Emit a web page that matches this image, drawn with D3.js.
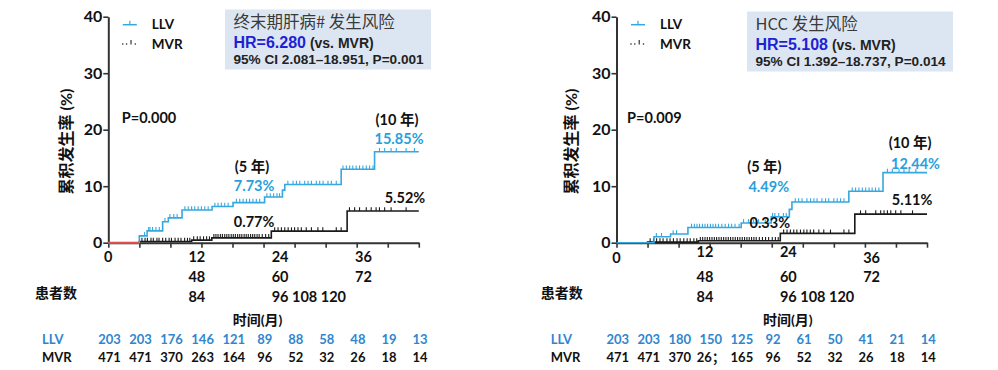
<!DOCTYPE html>
<html>
<head>
<meta charset="utf-8">
<script src="https://cdn.jsdelivr.net/npm/d3@7"></script>
<style>
  body { margin: 0; background: #fff; }
</style>
</head>
<body>
<svg id="chart"></svg>
<script>
// ---- data ----
const tickMonths = [0, 12, 24, 36, 48, 60, 72, 84, 96, 108, 120];
const xTickLabels = ["0", "12", "24", "36", "48", "60", "72", "84", "96", "108", "120"];
const yTicks = [0, 10, 20, 30, 40];

// end-stage liver disease panel
const eslLLVTimes = [0, 12, 15, 21, 23.2, 28.5, 40.1, 48.2, 60.4, 67.3, 68.2, 90, 102.9, 120];
const eslLLVRates = [0, 1.2, 2.1, 3.7, 4.4, 5.8, 6.4, 7.1, 8.1, 9.3, 10.3, 13.0, 16.1, 16.1];
const eslLLVCensor = [14, 15.6, 16.1, 17.1, 18.4, 19.7, 21.9, 23.8, 25.3, 26.6, 29.6, 30.9, 32.2, 33.4, 34.7, 36, 37.3, 38.6,
  41.2, 42.4, 43.7, 45, 46.3, 49.5, 50.8, 52.1, 53.4, 54.6, 55.9, 57.2, 58.5, 61.3, 62.6, 63.9, 65.2, 66.2,
  69.4, 71.4, 72.7, 74, 75.9, 77.2, 78.5, 80.4, 81.7, 83, 84.9, 86.2, 88.1, 90.7, 92, 93.3, 94.5, 95.8, 97.1,
  98.4, 99.7, 101, 102.3, 104.8, 106.8, 109.3, 111.3, 115.1, 118.3];
const eslMVRTimes = [0, 12, 32.2, 40, 63, 92.3, 120];
const eslMVRRates = [0, 0.2, 0.45, 0.85, 2.05, 5.6, 5.6];
const eslMVRCensor = [13, 14.2, 15.1, 16.5, 17.4, 18.8, 19.6, 21, 22.2, 23.5, 24.4, 25.8, 27, 28.1, 29.5, 30.6, 31.5,
  33, 34.4, 35.5, 36.8, 38, 39.1, 40.8, 41.6, 42.4, 43.3, 44.1, 45, 45.8, 46.6, 47.5, 48.3, 49.1, 50, 50.8,
  51.6, 52.5, 53.3, 54.1, 55, 55.8, 56.6, 57.5, 58.3, 59.5, 60.8, 62, 64.3, 65.6, 66.9, 68.2, 69.5, 70.8, 72,
  73.3, 74.6, 76.5, 78.5, 81, 82.9, 88.1, 90, 93.2, 95.2, 97.1, 99.7, 101.6, 103.5, 104.8, 106.8, 109.3, 115.1];
const eslRiskLLV = ["203", "203", "176", "146", "121", "89", "88", "58", "48", "19", "13"];
const eslRiskMVR = ["471", "471", "370", "263", "164", "96", "52", "32", "26", "18", "14"];

// HCC panel
const hccLLVTimes = [0, 14.5, 20.9, 27.6, 48.2, 59.8, 66.8, 67.8, 89.8, 103, 120];
const hccLLVRates = [0, 1.05, 1.55, 2.7, 3.5, 4.6, 5.9, 7.2, 9.1, 12.4, 12.4];
const hccLLVCensor = [15.4, 17.4, 21.9, 23.2, 29, 30.1, 31.1, 32.1, 33.2, 34.2, 35.2, 36.3, 37.3, 38.3, 39.4, 40.7, 42,
  43.3, 44.5, 45.8, 47.4, 49.1, 51, 53, 54.9, 57.5, 60.3, 61.2, 62.7, 64.5, 65.6, 69.1, 70.4, 71.7, 73.6, 75,
  76.3, 77.5, 79.4, 80.8, 82, 84, 85.3, 86.6, 87.9, 91.1, 92.4, 93.7, 95, 96.3, 97.6, 98.8, 100.1, 101.4,
  104.7, 106.6, 109.2, 111.1, 113.1, 115.7];
const hccMVRTimes = [0, 12, 31.6, 63.3, 92.1, 120];
const hccMVRRates = [0, 0.1, 0.35, 1.65, 5.05, 5.05];
const hccMVRCensor = [13, 14.3, 15.5, 16.8, 18, 19.5, 20.7, 22, 23.4, 24.6, 26, 27.3, 28.5, 29.9, 31, 32.4, 33.3, 34.2,
  35.1, 36, 36.9, 37.8, 38.7, 39.6, 40.5, 41.4, 42.3, 43.2, 44.1, 45, 45.9, 46.8, 47.7, 48.6, 49.5, 50.4,
  51.3, 52.2, 53.1, 54, 55.2, 56.4, 57.6, 58.8, 60.2, 61.4, 62.5, 64.6, 65.9, 67.2, 68.5, 69.7, 71.1, 72.4,
  73.6, 74.9, 76.2, 78.2, 80.1, 82.7, 87.9, 89.8, 94.3, 96.3, 100.2, 102.1, 103.4, 104.7, 106, 107.9, 109.9, 114.4];
const hccRiskLLV = ["203", "203", "180", "150", "125", "92", "61", "50", "41", "21", "14"];
const hccRiskMVR = ["471", "471", "370", "26；", "165", "96", "52", "32", "26", "18", "14"];

// ---- drawing ----
const W = 998, H = 370;
const FONT = "Lato, 'Noto Sans CJK SC', sans-serif";
const ARIAL = "'Liberation Sans', Arial, 'Noto Sans CJK SC', sans-serif";
const BLUE = "#35a8e0";
const TEXTBLUE = "#2a9fdb";
const RISKBLUE = "#2f86cf";
const RED = "#e0524f";
const AXIS = "#333";

const svg = d3.select("#chart").attr("width", W).attr("height", H)
  .style("font-family", FONT);
svg.append("rect").attr("width", W).attr("height", H).attr("fill", "#fff");

function stepAt(times, rates, t) {
  return rates[Math.max(0, d3.bisectRight(times, t) - 1)];
}

function drawPanel(cfg) {
  const x = d3.scaleLinear().domain([0, 120]).range([cfg.x0, cfg.x0 + 310.5]);
  const y = d3.scaleLinear().domain([0, 40]).range([242.7, 16.7]);
  const g = svg.append("g");

  // hazard ratio box
  const box = g.append("g").attr("transform", `translate(${cfg.box[0]},${cfg.box[1]})`);
  box.append("rect").attr("width", 206).attr("height", 60).attr("fill", "#dce6f2");
  box.append("text").attr("x", 8.5).attr("y", 18.5)
    .style("font-family", "'Noto Sans CJK SC', sans-serif").style("font-size", "16.5px")
    .attr("fill", "#3a3a3a").text(cfg.title);
  const hr = box.append("text").attr("x", 8.5).attr("y", 38.2)
    .style("font-family", ARIAL).style("font-weight", "bold");
  hr.append("tspan").attr("fill", "#1f1fd6").style("font-size", "16px").text(cfg.hr);
  hr.append("tspan").attr("fill", "#222").style("font-size", "14px").text(" (vs. MVR)");
  box.append("text").attr("x", 8.5).attr("y", 54.8)
    .style("font-family", ARIAL).style("font-weight", "bold").style("font-size", "13.6px")
    .attr("fill", "#222").text(cfg.ci);

  // legend
  const lg = g.append("g").attr("transform", `translate(${cfg.x0 + 14.5},0)`);
  lg.append("line").attr("x1", 0).attr("x2", 14).attr("y1", 24.7).attr("y2", 24.7)
    .attr("stroke", BLUE).attr("stroke-width", 1.5);
  lg.append("line").attr("x1", 7).attr("x2", 7).attr("y1", 20.8).attr("y2", 24.7)
    .attr("stroke", BLUE).attr("stroke-width", 1.2);
  lg.selectAll("circle").data([0, 3.8, 12.5]).join("circle")
    .attr("cx", d => d).attr("cy", 44).attr("r", 0.8).attr("fill", "#222");
  lg.append("line").attr("x1", 8.2).attr("x2", 8.2).attr("y1", 40).attr("y2", 44.5)
    .attr("stroke", "#222").attr("stroke-width", 1.1);
  lg.append("text").attr("x", 29).attr("y", 28.8).style("font-size", "13.5px")
    .style("font-weight", "bold").attr("fill", "#111").text("LLV");
  lg.append("text").attr("x", 29).attr("y", 48.6).style("font-size", "13.5px")
    .style("font-weight", "bold").attr("fill", "#111").text("MVR");

  // axes
  const yAxis = g.append("g").attr("transform", `translate(${x(0)},0)`)
    .call(d3.axisLeft(y).tickValues(yTicks).tickSize(5).tickPadding(1).tickSizeOuter(0));
  yAxis.select(".domain").attr("stroke", AXIS).attr("stroke-width", 2);
  yAxis.selectAll(".tick line").attr("stroke", AXIS).attr("stroke-width", 1.6);
  yAxis.selectAll(".tick text").style("font-family", FONT).style("font-size", "16px")
    .style("font-weight", "bold").attr("fill", "#111");

  const xAxis = g.append("g").attr("transform", `translate(0,${y(0)})`)
    .call(d3.axisBottom(x).tickValues(tickMonths).tickSize(5).tickSizeOuter(0).tickFormat(""));
  xAxis.select(".domain").attr("stroke", AXIS).attr("stroke-width", 2);
  xAxis.selectAll(".tick line").attr("stroke", AXIS).attr("stroke-width", 1.6);

  // x tick labels, wrapped as in the source
  const colMonths = [34.2, 66.4, 98.6];
  const lab = g.append("g").style("font-size", "14.5px").style("font-weight", "bold").attr("fill", "#111");
  const rowY = [262, 282, 301.8];
  lab.append("text").attr("x", x(0)).attr("y", rowY[0] + cfg.row0Shift[0])
    .attr("text-anchor", "middle").text(xTickLabels[0]);
  const rest = xTickLabels.slice(1);
  rest.slice(0, 7).forEach((t, k) => {
    const row = Math.floor(k / 3), col = k % 3;
    lab.append("text").attr("x", x(colMonths[col]))
      .attr("y", rowY[row] + (row === 0 ? cfg.row0Shift[col + 1] : 0))
      .attr("text-anchor", "middle").text(t);
  });
  const tail = lab.append("text").attr("y", rowY[2]).text(rest.slice(7).join(" "));
  const probe = lab.append("text").text(rest[7]);
  const half = probe.node().getComputedTextLength() / 2;
  probe.remove();
  tail.attr("x", x(colMonths[1]) - half);

  g.append("text").attr("x", cfg.x0 + cfg.patientsDx).attr("y", 298)
    .style("font-size", "14px").style("font-weight", "bold").attr("fill", "#111").text("患者数");
  g.append("text").attr("x", x(cfg.timeLabelMonth)).attr("y", 324.5).attr("text-anchor", "middle")
    .style("font-size", "14px").style("font-weight", "bold").attr("fill", "#111").text("时间(月)");

  // y axis title
  g.append("text")
    .attr("transform", `translate(${cfg.x0 - cfg.yTitleDx},141.5) rotate(-90)`)
    .attr("text-anchor", "middle").attr("dominant-baseline", "central")
    .style("font-size", "16px").style("font-weight", "bold").attr("fill", "#111")
    .text("累积发生率 (%)");

  // number at risk
  const risk = g.append("g").style("font-size", "13px").style("font-weight", "bold");
  risk.append("text").attr("x", cfg.x0 - cfg.riskLabelDx).attr("y", 343.8)
    .attr("fill", RISKBLUE).text("LLV");
  risk.append("text").attr("x", cfg.x0 - cfg.riskLabelDx).attr("y", 361.8)
    .attr("fill", "#111").text("MVR");
  risk.selectAll(".llv").data(cfg.riskLLV).join("text").attr("class", "llv")
    .attr("x", (d, i) => x(tickMonths[i]) + 1.2).attr("y", 343.8).attr("text-anchor", "middle")
    .attr("fill", RISKBLUE).text(d => d);
  risk.selectAll(".mvr").data(cfg.riskMVR).join("text").attr("class", "mvr")
    .attr("x", (d, i) => x(tickMonths[i]) + 1.2).attr("y", 361.8).attr("text-anchor", "middle")
    .attr("fill", "#111").text(d => d);

  // curves
  const line = d3.line().x(d => x(d[0])).y(d => y(d[1])).curve(d3.curveStepAfter);
  const drawCurve = (times, rates, censor, color) => {
    g.append("path").datum(d3.zip(times, rates)).attr("d", line)
      .attr("fill", "none").attr("stroke", color).attr("stroke-width", 1.6);
    g.selectAll(null).data(censor).join("line")
      .attr("x1", d => x(d)).attr("x2", d => x(d))
      .attr("y1", d => y(stepAt(times, rates, d)))
      .attr("y2", d => y(stepAt(times, rates, d)) - 3.8)
      .attr("stroke", color).attr("stroke-width", 1.1);
  };
  drawCurve(cfg.mvrTimes, cfg.mvrRates, cfg.mvrCensor, "#1a1a1a");
  drawCurve(cfg.llvTimes, cfg.llvRates, cfg.llvCensor, BLUE);
  if (cfg.redUntil) {
    g.append("line").attr("x1", x(0)).attr("x2", x(cfg.redUntil))
      .attr("y1", y(0)).attr("y2", y(0)).attr("stroke", RED).attr("stroke-width", 2);
  }

  // annotations (month, percent at baseline)
  g.selectAll(".ann").data(cfg.notes).join("text").attr("class", "ann")
    .attr("x", d => x(d[1])).attr("y", d => y(d[2]))
    .style("font-size", "14.5px").style("font-weight", "bold")
    .attr("fill", d => d[3]).text(d => d[0]);
}

drawPanel({
  x0: 108.3,
  box: [225, 9.5],
  title: "终末期肝病# 发生风险",
  hr: "HR=6.280",
  ci: "95% CI 2.081–18.951, P=0.001",
  row0Shift: [0, 0, 0, 0],
  patientsDx: -73.3,
  timeLabelMonth: 57.7,
  yTitleDx: 43,
  riskLabelDx: 66.3,
  riskLLV: eslRiskLLV, riskMVR: eslRiskMVR,
  llvTimes: eslLLVTimes, llvRates: eslLLVRates, llvCensor: eslLLVCensor,
  mvrTimes: eslMVRTimes, mvrRates: eslMVRRates, mvrCensor: eslMVRCensor,
  redUntil: 12,
  notes: [
    ["P=0.000", 5.2, 21.2, "#111"],
    ["(5 年)", 48.9, 12.5, "#111"],
    ["7.73%", 48.5, 9.1, TEXTBLUE],
    ["0.77%", 48.5, 2.75, "#111"],
    ["(10 年)", 103.3, 20.8, "#111"],
    ["15.85%", 102.9, 17.45, TEXTBLUE],
    ["5.52%", 106.8, 7.0, "#111"]
  ]
});

drawPanel({
  x0: 616.5,
  box: [747, 11.5],
  title: "HCC 发生风险",
  hr: "HR=5.108",
  ci: "95% CI 1.392–18.737, P=0.014",
  row0Shift: [1, -5.5, -5.5, 1],
  patientsDx: -75.8,
  timeLabelMonth: 66.2,
  yTitleDx: 46.5,
  riskLabelDx: 65.8,
  riskLLV: hccRiskLLV, riskMVR: hccRiskMVR,
  llvTimes: hccLLVTimes, llvRates: hccLLVRates, llvCensor: hccLLVCensor,
  mvrTimes: hccMVRTimes, mvrRates: hccMVRRates, mvrCensor: hccMVRCensor,
  redUntil: 0,
  notes: [
    ["P=0.009", 4.1, 21.2, "#111"],
    ["(5 年)", 50.5, 12.5, "#111"],
    ["4.49%", 51, 8.95, TEXTBLUE],
    ["0.33%", 51.4, 2.6, "#111"],
    ["(10 年)", 105.2, 16.75, "#111"],
    ["12.44%", 106.1, 13.0, TEXTBLUE],
    ["5.11%", 106.4, 6.65, "#111"]
  ]
});
</script>
</body>
</html>
